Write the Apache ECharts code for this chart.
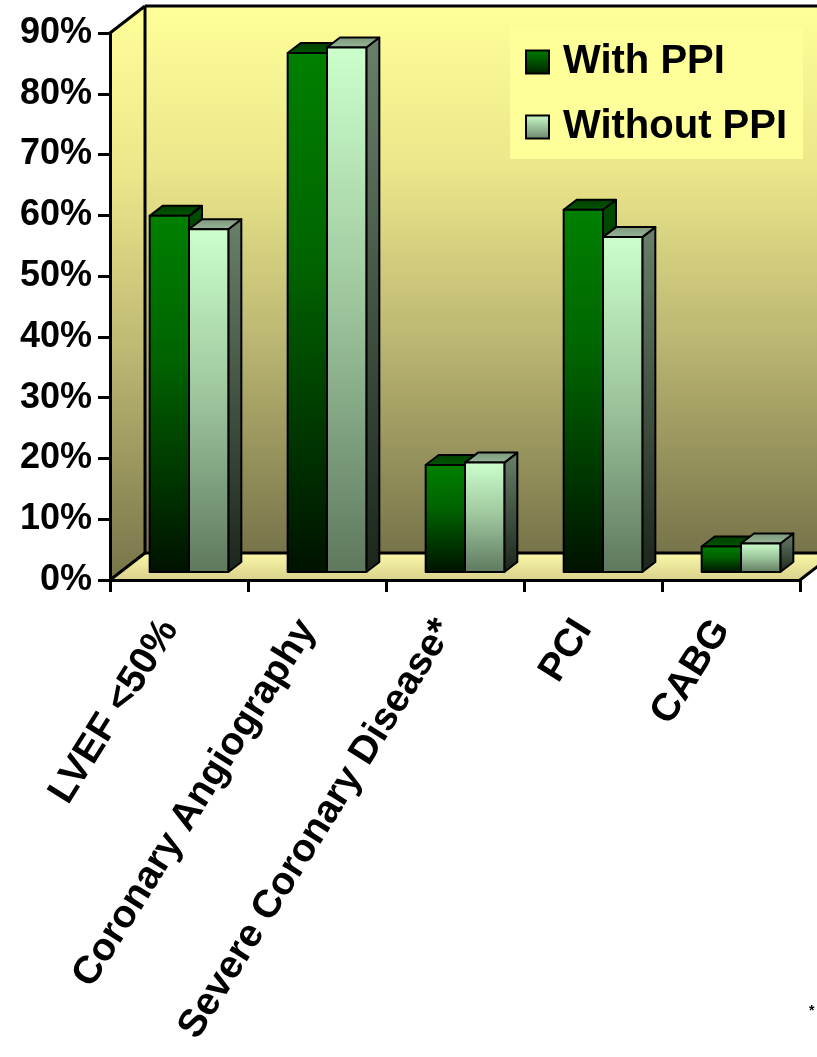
<!DOCTYPE html>
<html>
<head>
<meta charset="utf-8">
<style>
  html, body { margin: 0; padding: 0; background: #ffffff; }
  #chart { width: 817px; height: 1057px; }
</style>
<script src="https://cdn.jsdelivr.net/npm/echarts@6/dist/echarts.min.js"></script>
</head>
<body>
<div id="chart"></div>
<script>
// Share of patients for each outcome, with and without PPI use (percent)
const categories = ['LVEF <50%', 'Coronary Angiography', 'Severe Coronary Disease*', 'PCI', 'CABG'];
const withPPI = [58.6, 85.4, 17.6, 59.6, 4.2];
const withoutPPI = [56.4, 86.3, 18.0, 55.1, 4.7];
const seriesNames = ['With PPI', 'Without PPI'];
const yMax = 90;
const yStep = 10;

// Oblique "3D" offsets in pixels
const WALL_DX = 35, WALL_DY = -27;   // depth of the back wall
const BAR_DX = 10, BAR_DY = -8;      // bar row sits partway into the depth
const DEPTH_DX = 13, DEPTH_DY = -10; // thickness of each bar
const BAR_FRAC = 0.285;              // bar width as share of category band

const vgrad = (stops) => new echarts.graphic.LinearGradient(0, 0, 0, 1,
  stops.map(([o, c]) => ({ offset: o, color: c })));

const palettes = [
  { // With PPI
    front: () => vgrad([[0, '#008000'], [0.4, '#006400'], [1, '#001200']]),
    side: () => vgrad([[0, '#004d00'], [1, '#000e00']]),
    top: () => vgrad([[0, '#003c00'], [1, '#005a00']])
  },
  { // Without PPI
    front: () => vgrad([[0, '#ccffcc'], [0.5, '#9cc49c'], [1, '#5e785e']]),
    side: () => vgrad([[0, '#6a806a'], [1, '#1c261c']]),
    top: () => vgrad([[0, '#7a967a'], [1, '#9ab89a']])
  }
];

function barRenderer(idx) {
  const pal = palettes[idx];
  return function (params, api) {
    const i = api.value(0);
    const v = api.value(1);
    const top = api.coord([i, v]);
    const base = api.coord([i, 0]);
    const band = api.size([1, 0])[0];
    const w = band * BAR_FRAC;
    const cx = top[0] + BAR_DX;
    const x0 = idx === 0 ? cx - w : cx;
    const x1 = x0 + w;
    const yt = top[1] + BAR_DY;
    const yb = base[1] + BAR_DY;
    const stroke = { stroke: '#000', lineWidth: 2, lineJoin: 'round' };
    return {
      type: 'group',
      children: [
        { type: 'polygon',
          shape: { points: [[x1, yt], [x1 + DEPTH_DX, yt + DEPTH_DY], [x1 + DEPTH_DX, yb + DEPTH_DY], [x1, yb]] },
          style: Object.assign({ fill: pal.side() }, stroke) },
        { type: 'polygon',
          shape: { points: [[x0, yt], [x1, yt], [x1 + DEPTH_DX, yt + DEPTH_DY], [x0 + DEPTH_DX, yt + DEPTH_DY]] },
          style: Object.assign({ fill: pal.top() }, stroke) },
        { type: 'rect',
          shape: { x: x0, y: yt, width: w, height: yb - yt },
          style: Object.assign({ fill: pal.front() }, stroke) }
      ]
    };
  };
}

// Back wall, side wall and floor of the plot box
function frameRenderer(params, api) {
  const cs = params.coordSys;
  const L = cs.x, T = cs.y, R = cs.x + cs.width, B = cs.y + cs.height;
  const wallFill = () => vgrad([[0, '#ffff99'], [0.3, '#ebe68a'], [0.6, '#bdb873'], [1, '#77744a']]);
  const line = (a, b) => ({ type: 'line', shape: { x1: a[0], y1: a[1], x2: b[0], y2: b[1] },
    style: { stroke: '#000', lineWidth: 3 } });
  return {
    type: 'group',
    children: [
      { type: 'rect', shape: { x: L + WALL_DX, y: T + WALL_DY, width: cs.width, height: cs.height },
        style: { fill: wallFill() } },
      { type: 'polygon', shape: { points: [[L, T], [L + WALL_DX, T + WALL_DY], [L + WALL_DX, B + WALL_DY], [L, B]] },
        style: { fill: wallFill() } },
      { type: 'polygon', shape: { points: [[L, B], [R, B], [R + WALL_DX, B + WALL_DY], [L + WALL_DX, B + WALL_DY]] },
        style: { fill: vgrad([[0, '#fbf8a8'], [1, '#d9d28c']]) } },
      line([L + WALL_DX, T + WALL_DY], [R + WALL_DX + 20, T + WALL_DY]),
      line([L + WALL_DX, T + WALL_DY], [L + WALL_DX, B + WALL_DY]),
      line([L, T], [L + WALL_DX, T + WALL_DY]),
      line([L, B], [L + WALL_DX, B + WALL_DY]),
      line([L + WALL_DX, B + WALL_DY], [R + WALL_DX, B + WALL_DY]),
      line([R, B], [R + WALL_DX, B + WALL_DY])
    ]
  };
}

const chart = echarts.init(document.getElementById('chart'), null, { renderer: 'canvas' });

const labelFont = 'Liberation Sans, Arial, sans-serif';

chart.setOption({
  backgroundColor: '#ffffff',
  animation: false,
  grid: {
    left: 110, right: 17, top: 33, bottom: 477,
    containLabel: false,
    outerBoundsMode: 'none'
  },
  legend: {
    orient: 'vertical',
    left: 510, top: 27,
    backgroundColor: '#ffff99',
    padding: [15, 16, 12, 15],
    itemWidth: 23, itemHeight: 23,
    itemGap: 25,
    selectedMode: false,
    textStyle: {
      fontFamily: labelFont, fontSize: 40, fontWeight: 'bold', color: '#000',
      lineHeight: 40, padding: [0, 0, 0, 9]
    },
    data: [
      { name: seriesNames[0], icon: 'rect',
        itemStyle: { color: vgrad([[0, '#008000'], [1, '#002000']]), borderColor: '#000', borderWidth: 2 } },
      { name: seriesNames[1], icon: 'rect',
        itemStyle: { color: vgrad([[0, '#ccffcc'], [1, '#6a846a']]), borderColor: '#000', borderWidth: 2 } }
    ]
  },
  xAxis: {
    type: 'category',
    data: categories,
    boundaryGap: true,
    z: 10,
    axisLine: { show: true, lineStyle: { color: '#000', width: 3 } },
    axisTick: { show: true, length: 12, lineStyle: { color: '#000', width: 3 } },
    axisLabel: {
      interval: 0, rotate: 58, margin: 28, padding: [0, 18, 0, 0],
      fontFamily: labelFont, fontSize: 39, fontWeight: 'bold', color: '#000'
    },
    splitLine: { show: false }
  },
  yAxis: {
    type: 'value',
    min: 0, max: yMax, interval: yStep,
    z: 10,
    axisLine: { show: true, lineStyle: { color: '#000', width: 3 } },
    axisTick: { show: true, length: 12, lineStyle: { color: '#000', width: 3 } },
    axisLabel: {
      margin: 18, formatter: '{value}%',
      fontFamily: labelFont, fontSize: 36, fontWeight: 'bold', color: '#000'
    },
    splitLine: { show: false }
  },
  graphic: [
    { type: 'text', left: 809, top: 1004,
      style: { text: '*', fontFamily: labelFont, fontSize: 14, fontWeight: 'bold', fill: '#000' } }
  ],
  series: [
    { type: 'custom', name: 'frame', silent: true, z: 1,
      renderItem: frameRenderer, data: [[0, 0]] },
    { type: 'custom', name: seriesNames[0], z: 2,
      renderItem: barRenderer(0),
      itemStyle: { color: '#008000' },
      data: withPPI.map((v, i) => [i, v]) },
    { type: 'custom', name: seriesNames[1], z: 3,
      renderItem: barRenderer(1),
      itemStyle: { color: '#ccffcc' },
      data: withoutPPI.map((v, i) => [i, v]) }
  ]
});
</script>
</body>
</html>
